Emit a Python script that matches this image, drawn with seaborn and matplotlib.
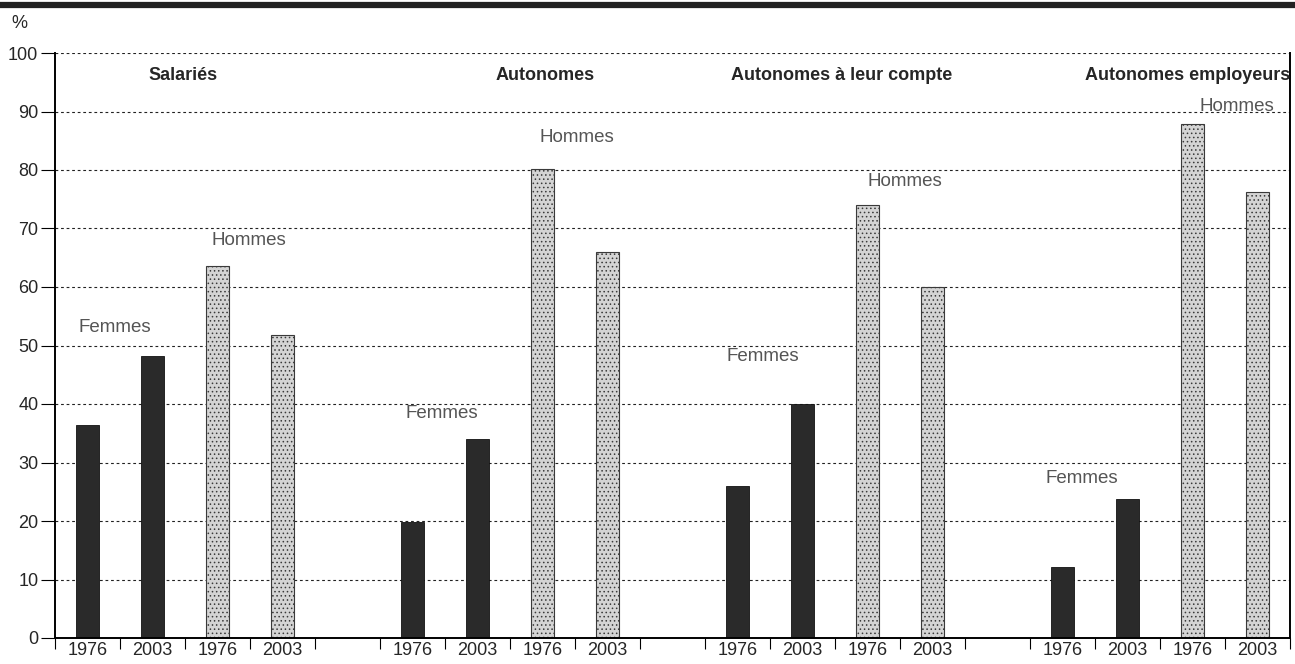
import numpy as np
import pandas as pd
import matplotlib
matplotlib.use("Agg")
import matplotlib.pyplot as plt
import seaborn as sns
from matplotlib.lines import Line2D
from matplotlib import font_manager

# donnees (%)
groupes = ["Salariés", "Autonomes", "Autonomes à leur compte", "Autonomes employeurs"]
annees = ["1976", "2003"]
femmes = [[36.4, 48.2], [19.8, 34.0], [26.0, 40.0], [12.1, 23.8]]
hommes = [[63.6, 51.8], [80.2, 66.0], [74.0, 60.0], [87.9, 76.2]]

rows = []
slot = 0
for g in range(len(groupes)):
    for a, v in zip(annees, femmes[g]):
        rows.append({"slot": slot, "annee": a, "valeur": v, "sexe": "Femmes", "groupe": groupes[g]})
        slot += 1
    for a, v in zip(annees, hommes[g]):
        rows.append({"slot": slot, "annee": a, "valeur": v, "sexe": "Hommes", "groupe": groupes[g]})
        slot += 1
    slot += 1  # espace entre groupes
df = pd.DataFrame(rows)
n_slots = slot - 1

sns.set_style("white")
plt.rcParams["font.family"] = ["Liberation Sans", "DejaVu Sans"]
plt.rcParams["hatch.linewidth"] = 0.6

# police etroite pour les titres si disponible
try:
    font_manager.findfont(font_manager.FontProperties(family="Liberation Sans Narrow", weight="bold"),
                          fallback_to_default=False)
    titre_font, titre_size = "Liberation Sans Narrow", 15.5
except Exception:
    titre_font, titre_size = "Liberation Sans", 13

fig = plt.figure(figsize=(12.95, 6.64), dpi=100)
ax = fig.add_axes([55 / 1295, 1 - 638 / 664, 1235 / 1295, 585 / 664])

sns.barplot(data=df, x="slot", y="valeur", hue="sexe", order=list(range(n_slots)),
            dodge=False, width=0.34, palette={"Femmes": "#2a2a2a", "Hommes": "#d4d4d4"},
            legend=False, ax=ax)

for p in ax.patches:
    fc = p.get_facecolor()
    if fc[0] > 0.5:
        p.set_edgecolor("#3a3a3a")
        p.set_hatch("....")
        p.set_linewidth(0.8)
    else:
        p.set_edgecolor("#111111")
        p.set_linewidth(0.6)

ax.set_xlim(-0.5, n_slots - 0.5)
ax.set_ylim(0, 100)
ax.set_yticks(np.arange(0, 101, 10))
ax.set_yticklabels([str(v) for v in range(0, 101, 10)], fontsize=13)
for y in range(10, 101, 10):
    ax.axhline(y, color="#222222", lw=0.8, ls=(0, (2.5, 2.5)), zorder=0)

# etiquettes des annees sous chaque barre, traits aux limites
ax.set_xticks(df["slot"])
ax.set_xticklabels(df["annee"], fontsize=13)
ax.tick_params(axis="x", which="major", length=0, pad=3)
ax.set_xticks(np.arange(-0.5, n_slots, 1), minor=True)
ax.tick_params(axis="x", which="minor", bottom=True, length=8, width=0.8,
               direction="out", color="black")
ax.tick_params(axis="y", left=True, length=10, width=0.8, direction="out",
               color="black", pad=2)
ax.set_xlabel("")
ax.set_ylabel("")

for s in ["left", "bottom", "right"]:
    ax.spines[s].set_visible(True)
    ax.spines[s].set_color("black")
    ax.spines[s].set_linewidth(1.4)
ax.spines["top"].set_visible(False)

# titres des groupes
titres_x = [1.47, 7.04, 11.6, 16.93]
for g, tx in zip(groupes, titres_x):
    ax.text(tx, 96.2, g, ha="center", va="center", fontsize=titre_size,
            fontweight="bold", family=[titre_font, "DejaVu Sans"])

# etiquettes Femmes / Hommes
femmes_pos = [(0.42, 53.0), (5.45, 38.3), (10.39, 48.2), (15.3, 27.2)]
hommes_pos = [(2.48, 68.0), (7.53, 85.5), (12.58, 78.0), (17.68, 90.8)]
for x, y in femmes_pos:
    ax.text(x, y, "Femmes", ha="center", va="center", fontsize=13.5, color="#555555")
for x, y in hommes_pos:
    ax.text(x, y, "Hommes", ha="center", va="center", fontsize=13.5, color="#555555")

fig.text(11 / 1295, 1 - 23 / 664, "%", ha="left", va="center", fontsize=13)
fig.add_artist(Line2D([0, 1], [1 - 4.5 / 664, 1 - 4.5 / 664], transform=fig.transFigure,
                      color="#222222", lw=4.5))

fig.savefig("out.png", dpi=100)
